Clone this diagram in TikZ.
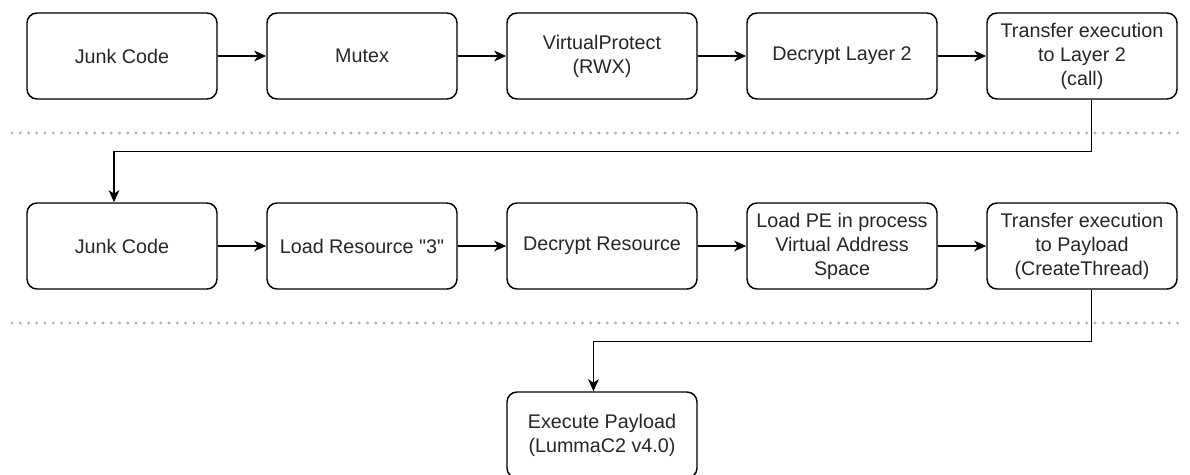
\documentclass[tikz,border=0pt]{standalone}
\usepackage{fontspec}
\setmainfont{Liberation Sans}
\usetikzlibrary{arrows.meta}

\begin{document}
\begin{tikzpicture}[x=0.75pt, y=-0.75pt,
    stage/.style={draw, line width=1.1pt, rounded corners=7.5pt, fill=white,
      minimum width=142.5pt, minimum height=64.5pt, inner sep=0pt,
      align=center, text=black!85, font=\fontsize{14.8}{18}\selectfont},
    arr/.style={-{Stealth[length=9pt, width=8pt, inset=2.5pt]}, line width=1.1pt},
    sep/.style={gray!60, line width=2.4pt, line cap=round, dash pattern=on 0pt off 6.2pt}]
  \clip (0,0) rectangle (1190,475);

  % Layer 1
  \node[stage] (junk1) at (122, 56) {Junk Code};
  \node[stage] (mutex) at (362, 56) {Mutex};
  \node[stage] (vprotect) at (602, 56) {VirtualProtect\\(RWX)};
  \node[stage] (decrypt2) at (842, 56) {Decrypt Layer 2};
  \node[stage] (transfer2) at (1082, 56) {Transfer execution\\to Layer 2\\(call)};

  \draw[arr] (junk1) -- (mutex);
  \draw[arr] (mutex) -- (vprotect);
  \draw[arr] (vprotect) -- (decrypt2);
  \draw[arr] (decrypt2) -- (transfer2);

  % Separators
  \draw[sep] (12,133) -- (1180,133);
  \draw[sep] (12,323) -- (1180,323);

  % Layer 2
  \node[stage] (junk2) at (122, 246) {Junk Code};
  \node[stage] (loadres) at (362, 246) {Load Resource \textquotedbl 3\textquotedbl};
  \node[stage] (decres) at (602, 246) {Decrypt Resource};
  \node[stage] (loadpe) at (842, 246) {Load PE in process\\Virtual Address\\Space};
  \node[stage] (transferpl) at (1082, 246) {Transfer execution\\to Payload\\(CreateThread)};

  \draw[arr] ([xshift=7.1pt]transfer2.south) -- ++(0,52) -| ([xshift=-6pt]junk2.north);
  \draw[arr] (junk2) -- (loadres);
  \draw[arr] (loadres) -- (decres);
  \draw[arr] (decres) -- (loadpe);
  \draw[arr] (loadpe) -- (transferpl);

  % Payload
  \node[stage] (execpl) at (602, 435) {Execute Payload\\(LummaC2 v4.0)};

  \draw[arr] ([xshift=7.1pt]transferpl.south) -- ++(0,52) -| ([xshift=-6.4pt]execpl.north);
\end{tikzpicture}
\end{document}
